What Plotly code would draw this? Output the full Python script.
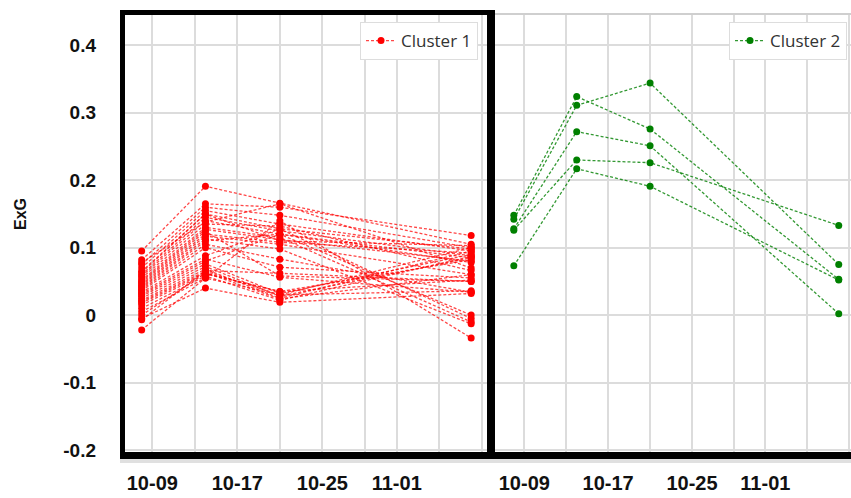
import plotly.graph_objects as go
import pandas as pd

# ---------------- data ----------------
dates = ["2022-10-08", "2022-10-14", "2022-10-21", "2022-11-08"]
tick_dates = ["2022-10-09", "2022-10-17", "2022-10-25", "2022-11-01"]
tick_labels = ["10-09", "10-17", "10-25", "11-01"]
grid_dates = ["2022-10-13", "2022-10-21", "2022-10-29", "2022-11-05", "2022-11-09"]
y_ticks = [0.4, 0.3, 0.2, 0.1, 0.0, -0.1, -0.2]
y_tick_labels = ["0.4", "0.3", "0.2", "0.1", "0", "-0.1", "-0.2"]

cluster1 = [
    [0.095, 0.191, 0.166, 0.105],
    [0.082, 0.165, 0.160, 0.118],
    [0.075, 0.160, 0.148, 0.100],
    [0.070, 0.155, 0.135, 0.095],
    [0.065, 0.150, 0.128, -0.005],
    [0.060, 0.145, 0.125, 0.088],
    [0.058, 0.140, 0.120, 0.085],
    [0.055, 0.135, 0.132, 0.066],
    [0.052, 0.130, 0.115, -0.010],
    [0.050, 0.127, 0.112, 0.080],
    [0.048, 0.124, 0.058, 0.050],
    [0.046, 0.120, 0.108, 0.092],
    [0.044, 0.117, 0.105, 0.060],
    [0.042, 0.113, 0.098, -0.013],
    [0.040, 0.110, 0.120, 0.078],
    [0.038, 0.105, 0.083, 0.034],
    [0.036, 0.100, 0.071, 0.055],
    [0.034, 0.088, 0.128, 0.098],
    [0.032, 0.083, 0.056, 0.034],
    [0.030, 0.080, 0.120, 0.000],
    [0.028, 0.076, 0.032, 0.090],
    [0.025, 0.072, 0.028, 0.085],
    [0.022, 0.068, 0.025, 0.095],
    [0.020, 0.065, 0.030, 0.100],
    [0.018, 0.063, 0.024, 0.060],
    [0.015, 0.061, 0.035, 0.052],
    [0.010, 0.058, 0.022, 0.087],
    [0.005, 0.055, 0.030, 0.036],
    [0.000, 0.062, 0.035, 0.082],
    [-0.005, 0.040, 0.019, 0.032],
    [-0.007, 0.066, 0.062, 0.050],
    [-0.022, 0.055, 0.140, -0.034],
    [0.063, 0.150, 0.110, 0.103],
    [0.078, 0.138, 0.165, 0.070],
]

cluster2 = [
    [0.148, 0.324, 0.276, 0.053],
    [0.142, 0.311, 0.344, 0.075],
    [0.128, 0.272, 0.251, 0.002],
    [0.126, 0.230, 0.226, 0.133],
    [0.073, 0.217, 0.191, 0.052],
]

series_names = ["Cluster 1", "Cluster 2"]
series_colors = ["#ff0000", "#008000"]
line_colors = ["rgba(255,0,0,0.72)", "rgba(0,128,0,0.8)"]

# ---------------- layout helpers ----------------
W, H = 851, 498


def px(x):
    return x / W


def py(y):
    return 1 - y / H


ref = pd.Timestamp("2022-10-09")
left_range = [ref - pd.Timedelta(days=2.568), ref + pd.Timedelta(days=31.49)]
right_range = [ref - pd.Timedelta(days=2.796), ref + pd.Timedelta(days=31.17)]

fig = go.Figure()

for i, vals in enumerate(cluster1):
    fig.add_trace(go.Scatter(
        x=dates, y=vals, mode="lines+markers", name=series_names[0],
        legendgroup="c1", showlegend=(i == 0), legend="legend",
        line=dict(color=line_colors[0], width=1.3, dash="3px,2px"),
        marker=dict(color=series_colors[0], size=7),
        xaxis="x", yaxis="y",
    ))

for i, vals in enumerate(cluster2):
    fig.add_trace(go.Scatter(
        x=dates, y=vals, mode="lines+markers", name=series_names[1],
        legendgroup="c2", showlegend=(i == 0), legend="legend2",
        line=dict(color=line_colors[1], width=1.3, dash="3px,2px"),
        marker=dict(color=series_colors[1], size=7),
        xaxis="x2", yaxis="y2",
    ))

tick_font = dict(family="Liberation Sans, Arial, sans-serif", size=20, color="#111111", weight="bold")
ytick_font = dict(family="Liberation Sans, Arial, sans-serif", size=19, color="#111111", weight="bold")
grid_col = "#dcdcdc"

xcommon = dict(
    type="date", tickmode="array", tickvals=tick_dates, ticktext=tick_labels,
    tickfont=tick_font, showgrid=True, gridcolor=grid_col, gridwidth=1.5,
    minor=dict(tickmode="array", tickvals=grid_dates, showgrid=True,
               gridcolor=grid_col, gridwidth=1.5),
    zeroline=False, showline=False, ticks="", ticklabelstandoff=17,
    automargin=False, fixedrange=True,
)
ycommon = dict(
    range=[-0.203, 0.445], tickmode="array", tickvals=y_ticks,
    showgrid=True, gridcolor=grid_col, gridwidth=1.5, zeroline=False,
    showline=False, ticks="", automargin=False, fixedrange=True,
)

legend_font = dict(family="Open Sans, DejaVu Sans, sans-serif", size=17, color="#333333")

fig.update_layout(
    width=W, height=H,
    margin=dict(l=0, r=0, t=0, b=0),
    paper_bgcolor="white", plot_bgcolor="white",
    xaxis=dict(domain=[px(125), px(487)], range=left_range, anchor="y", **xcommon),
    xaxis2=dict(domain=[px(495), 1.0], range=right_range, anchor="y2", **xcommon),
    yaxis=dict(domain=[py(452), py(15)], anchor="x", ticktext=y_tick_labels,
               tickfont=ytick_font, ticklabelstandoff=28, **ycommon),
    yaxis2=dict(domain=[py(452), py(15)], anchor="x2", showticklabels=False, **ycommon),
    legend=dict(x=px(478), y=py(22), xanchor="right", yanchor="top",
                bgcolor="white", bordercolor="#dddddd", borderwidth=1,
                font=legend_font),
    legend2=dict(x=px(847), y=py(22), xanchor="right", yanchor="top",
                 bgcolor="white", bordercolor="#dddddd", borderwidth=1,
                 font=legend_font),
    showlegend=True,
)

shapes = []


def rect(x0, y0, x1, y1, color):
    shapes.append(dict(type="rect", xref="paper", yref="paper",
                       x0=px(x0), x1=px(x1), y0=py(y1), y1=py(y0),
                       fillcolor=color, line=dict(width=0), layer="above"))


# shadow under the bottom frame
rect(120, 459, W, 463, "rgba(0,0,0,0.12)")
# left panel thick frame
rect(120, 10, 125, 459, "black")
rect(120, 10, 490, 15, "black")
rect(120, 452, W, 459, "black")
rect(487, 10, 495, 459, "black")
# right panel thin top border
rect(495, 13, W, 15, "#cfcfcf")
fig.update_layout(shapes=shapes)

fig.add_annotation(
    text="ExG", xref="paper", yref="paper", x=px(20), y=py(214),
    showarrow=False, textangle=-90, xanchor="center", yanchor="middle",
    font=dict(family="Liberation Sans, Arial, sans-serif", size=16, color="#111111", weight="bold"),
)

fig.write_html("out.html")
